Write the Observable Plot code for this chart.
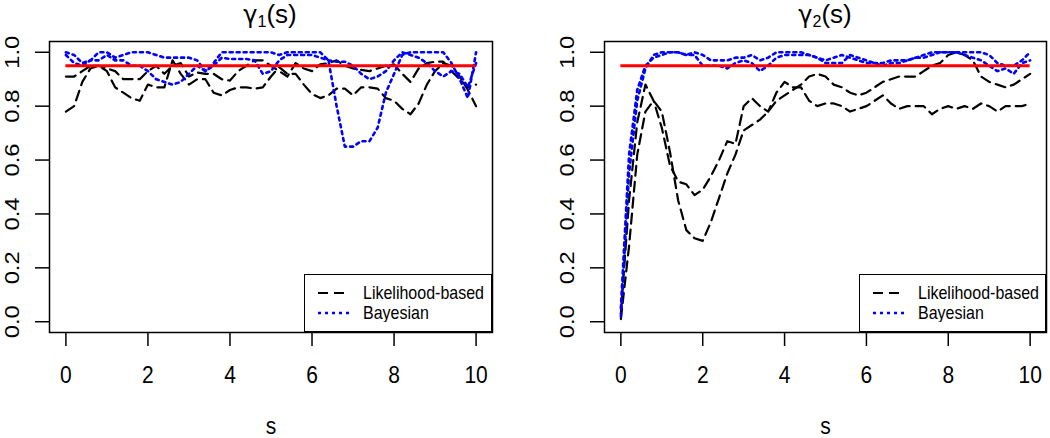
<!DOCTYPE html>
<html><head><meta charset="utf-8">
<script src="https://cdn.jsdelivr.net/npm/d3@7"></script>
<script src="https://cdn.jsdelivr.net/npm/@observablehq/plot@0.6"></script>
<style>
body{margin:0;background:#fff;font-family:"Liberation Sans",Arial,sans-serif;}
#wrap{position:relative;width:1050px;height:438px;overflow:hidden;background:#fff;}
.panel{position:absolute;top:0;width:525px;height:438px;}
.panel > svg{position:absolute;left:0;top:0;}
.title{position:absolute;top:1px;font-size:26px;line-height:1;white-space:nowrap;transform:translateX(-50%);color:#000;}
.title .g{font-family:"DejaVu Sans",sans-serif;font-size:24px;}
.title sub{font-size:16px;vertical-align:-4px;line-height:0;}
.legend{position:absolute;border:1.5px solid #000;background:#fff;box-sizing:border-box;}
.legend .row{position:absolute;left:0;height:20px;width:100%;}
.legend svg{position:absolute;left:13px;top:0;}
.legend span{position:absolute;left:58px;top:0;font-size:16px;line-height:20px;white-space:nowrap;color:#000;display:inline-block;transform:scaleY(1.12);transform-origin:center;}
</style>
</head><body>
<div id="wrap"></div>
<script>
// grid of s values
const s = [0,0.2,0.4,0.6,0.8,1,1.2,1.4,1.6,1.8,2,2.2,2.4,2.6,2.8,3,3.2,3.4,3.6,3.8,4,4.2,4.4,4.6,4.8,5,5.2,5.4,5.6,5.8,6,6.2,6.4,6.6,6.8,7,7.2,7.4,7.6,7.8,8,8.2,8.4,8.6,8.8,9,9.2,9.4,9.6,9.8,10];
const xTicks = [0,2,4,6,8,10];
const yTicks = [0,0.2,0.4,0.6,0.8,1.0];
const nominal = 0.95;
const titles = ["1","2"];
const legendLabels = ["Likelihood-based","Bayesian"];

// gamma1(s)
const g1Lik1 = [0.78,0.80,0.89,0.94,0.95,0.93,0.87,0.85,0.83,0.82, 0.88,0.87,0.87,0.97,0.92,0.88,0.90,0.90,0.85,0.84, 0.86,0.87,0.87,0.865,0.87,0.91,0.945,0.92,0.92,0.88, 0.845,0.83,0.84,0.865,0.865,0.84,0.87,0.87,0.865,0.83, 0.82,0.79,0.77,0.81,0.88,0.93,0.96,0.95,0.91,0.86, 0.80];
const g1Lik2 = [0.91,0.91,0.93,0.95,0.95,0.94,0.93,0.90,0.90,0.90, 0.93,0.95,0.92,0.95,0.96,0.91,0.925,0.92,0.92,0.90, 0.895,0.93,0.95,0.97,0.97,0.95,0.93,0.91,0.96,0.94, 0.93,0.955,0.96,0.97,0.95,0.94,0.935,0.93,0.94,0.95, 0.955,0.92,0.89,0.94,0.96,0.965,0.965,0.93,0.90,0.87, 0.88];
const g1Bay1 = [1.0,0.99,0.96,0.97,1.0,1.0,0.98,0.99,1.0,1.0, 1.0,0.99,0.98,0.98,0.98,0.98,0.97,0.93,0.96,1.0, 1.0,1.0,1.0,1.0,1.0,1.0,0.99,1.0,1.0,1.0, 1.0,1.0,0.97,0.80,0.65,0.65,0.67,0.67,0.72,0.85, 0.92,0.99,1.0,1.0,1.0,1.0,1.0,0.96,0.90,0.83, 1.0];
const g1Bay2 = [0.99,0.96,0.95,0.97,0.97,0.99,0.97,0.97,0.95,0.95, 0.93,0.90,0.89,0.88,0.89,0.92,0.95,0.93,0.95,0.98, 0.975,0.975,0.975,0.97,0.92,0.93,0.97,0.99,0.99,0.99, 0.99,0.98,0.97,0.965,0.965,0.95,0.92,0.90,0.91,0.93, 0.97,1.0,0.99,0.98,0.96,0.93,0.91,0.93,0.92,0.87, 0.96];

// gamma2(s)
const g2Lik1 = [0.03,0.45,0.74,0.88,0.82,0.72,0.58,0.52,0.51,0.47, 0.49,0.54,0.60,0.67,0.66,0.80,0.83,0.80,0.78,0.85, 0.89,0.87,0.87,0.82,0.80,0.81,0.81,0.80,0.78,0.79, 0.80,0.82,0.84,0.81,0.79,0.80,0.80,0.80,0.77,0.79, 0.80,0.79,0.80,0.79,0.81,0.80,0.78,0.80,0.80,0.80, 0.81];
const g2Lik2 = [0.01,0.28,0.62,0.78,0.82,0.78,0.63,0.45,0.34,0.31, 0.30,0.37,0.46,0.55,0.62,0.71,0.73,0.75,0.78,0.82, 0.84,0.86,0.88,0.91,0.92,0.91,0.88,0.87,0.85,0.84, 0.85,0.87,0.89,0.90,0.91,0.91,0.91,0.93,0.95,0.96, 0.99,1.0,0.99,0.97,0.91,0.89,0.88,0.87,0.88,0.90, 0.92];
const g2Bay1 = [0.02,0.55,0.82,0.94,0.99,1.0,1.0,1.0,0.99,1.0, 0.99,0.97,0.97,0.97,0.98,0.98,0.99,0.97,0.98,1.0, 1.0,1.0,1.0,0.99,0.98,0.97,0.98,0.99,0.98,0.97, 0.96,0.96,0.96,0.97,0.97,0.97,0.98,0.99,1.0,1.0, 1.0,1.0,1.0,1.0,1.0,0.99,0.96,0.95,0.95,0.97, 1.0];
const g2Bay2 = [0.05,0.62,0.86,0.95,0.98,0.99,1.0,1.0,0.99,0.99, 0.95,0.95,0.95,0.94,0.96,0.97,0.96,0.93,0.95,0.98, 0.99,0.99,0.99,0.99,0.98,0.96,0.96,0.96,0.99,0.98, 0.97,0.96,0.95,0.96,0.96,0.97,0.98,0.98,0.99,1.0, 1.0,1.0,0.99,0.98,0.97,0.95,0.93,0.94,0.92,0.96, 0.97];

function toRows(list) {
  const rows = [];
  list.forEach((arr, k) => arr.forEach((v, i) => rows.push({s: s[i], v, series: k})));
  return rows;
}

const FONT = '"Liberation Sans", Arial, sans-serif';
const LIK_DASH = "10,6";
const BAY_DASH = "3,4";

function makePanel(lik, bay, ml, mr) {
  return Plot.plot({
    width: 525, height: 438,
    marginLeft: ml, marginRight: mr, marginTop: 41, marginBottom: 106,
    x: {domain: [-0.4, 10.4]},
    y: {domain: [-0.04, 1.04]},
    style: {fontFamily: FONT, fontSize: "21px", background: "transparent", color: "#000", overflow: "visible"},
    marks: [
      Plot.line(toRows(lik), {x: "s", y: "v", z: "series", stroke: "#000", strokeWidth: 2.2, strokeDasharray: LIK_DASH}),
      Plot.line(toRows(bay), {x: "s", y: "v", z: "series", stroke: "#0000ff", strokeWidth: 2.6, strokeDasharray: BAY_DASH}),
      Plot.ruleY([nominal], {x1: s[0], x2: s[s.length - 1], stroke: "#ff0000", strokeWidth: 3}),
      Plot.frame({stroke: "#000", strokeWidth: 1.5}),
      Plot.axisX(xTicks, {tickSize: 14, tickPadding: 20, fontSize: 21, label: null, strokeWidth: 1.5}),
      Plot.axisY(yTicks, {tickSize: 14, tickPadding: 23, tickRotate: -90, textAnchor: "middle", lineAnchor: "middle",
        tickFormat: d3.format(".1f"), fontSize: 21, label: null, strokeWidth: 1.5}),
      Plot.text(["s"], {frameAnchor: "bottom", dy: 94, fontSize: 21, lineAnchor: "middle"})
    ]
  });
}

// the reference's lettering is slightly taller than wide: stretch glyphs along screen-vertical
function stretchText(svg, k) {
  svg.querySelectorAll("text").forEach(t => {
    let tr = t.getAttribute("transform") || "";
    ["x", "y"].forEach(a => {
      const v = t.getAttribute(a);
      if (v != null && !/em$/.test(v) && +v !== 0) {
        tr += a === "x" ? ` translate(${+v},0)` : ` translate(0,${+v})`;
        t.removeAttribute(a);
      }
    });
    tr += /rotate\(\s*-?90/.test(tr) ? ` scale(${k},1)` : ` scale(1,${k})`;
    t.setAttribute("transform", tr.trim());
  });
}

const wrap = document.getElementById("wrap");
const panels = [
  {lik: [g1Lik1, g1Lik2], bay: [g1Bay1, g1Bay2], ml: 49, mr: 33, left: 0, titleX: 270, legLeft: 304, legW: 188},
  {lik: [g2Lik1, g2Lik2], bay: [g2Bay1, g2Bay2], ml: 79, mr: 4, left: 525, titleX: 300, legLeft: 334, legW: 187}
];

panels.forEach((p, idx) => {
  const div = document.createElement("div");
  div.className = "panel";
  div.style.left = p.left + "px";
  const svg = makePanel(p.lik, p.bay, p.ml, p.mr);
  stretchText(svg, 1.13);
  div.appendChild(svg);

  const t = document.createElement("div");
  t.className = "title";
  t.style.left = p.titleX + "px";
  t.innerHTML = '<span class="g">\u03b3</span><sub>' + titles[idx] + "</sub>(s)";
  div.appendChild(t);

  const leg = document.createElement("div");
  leg.className = "legend";
  leg.style.left = p.legLeft + "px";
  leg.style.top = "274px";
  leg.style.width = p.legW + "px";
  leg.style.height = "58px";
  const styles = [
    {stroke: "#000", w: 2.2, dash: LIK_DASH},
    {stroke: "#0000ff", w: 2.6, dash: BAY_DASH}
  ];
  legendLabels.forEach((lab, i) => {
    const row = document.createElement("div");
    row.className = "row";
    row.style.top = (8 + i * 20) + "px";
    row.innerHTML = `<svg width="32" height="20"><line x1="0" x2="31" y1="10" y2="10" stroke="${styles[i].stroke}" stroke-width="${styles[i].w}" stroke-dasharray="${styles[i].dash}"/></svg><span>${lab}</span>`;
    leg.appendChild(row);
  });
  div.appendChild(leg);
  wrap.appendChild(div);
});
</script>
</body></html>
